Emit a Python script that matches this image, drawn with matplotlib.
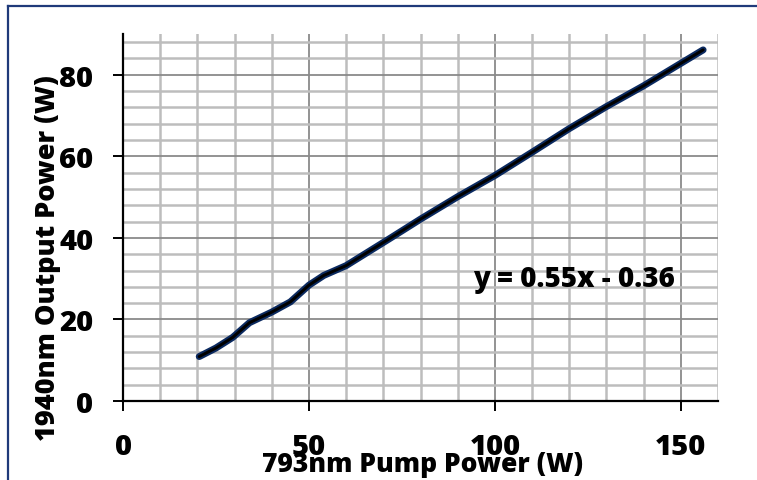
import numpy as np
import matplotlib
matplotlib.use('Agg')
import matplotlib.pyplot as plt
from matplotlib.lines import Line2D

plt.rcParams['font.family'] = ['Open Sans', 'DejaVu Sans']
plt.rcParams['font.weight'] = 'bold'

# pump power (W) vs output power (W)
pump_w = [20.5, 25, 29.5, 34, 40, 45, 50, 54, 60, 66, 72, 80,
          90, 100, 110, 120, 130, 140, 150, 156]
out_w = [10.9, 13.0, 15.6, 19.2, 21.8, 24.3, 28.4, 30.8, 33.2, 36.6, 40.0, 44.6,
         50.1, 55.3, 61.0, 66.8, 72.2, 77.3, 82.8, 86.1]

x_ticks = [0, 50, 100, 150]
y_ticks = [0, 20, 40, 60, 80]
fit_label = 'y = 0.55x - 0.36'

W, H = 757, 481
fig = plt.figure(figsize=(W / 100, H / 100), dpi=100)
fig.patch.set_facecolor('white')

# axes box in pixels: left 123, right 718, top 35, bottom 402
ax = fig.add_axes([123 / W, 1 - 402 / H, (718 - 123) / W, (402 - 35) / H])
ax.set_xlim(0, 160)
ax.set_ylim(0, 90)

# grid: minor light, major darker
for xv in np.arange(10, 161, 10):
    major = xv % 50 == 0
    ax.axvline(xv, color='#8a8a8a' if major else '#bdbdbd',
               lw=1.3 if major else 1.8, zorder=1)
for yv in np.arange(4, 89, 4):
    major = yv % 20 == 0
    ax.axhline(yv, color='#8a8a8a' if major else '#bdbdbd',
               lw=1.3 if major else 1.8, zorder=1)

ax.plot(pump_w, out_w, color='#0b2a60', lw=5.0, solid_capstyle='round',
        solid_joinstyle='round', zorder=3)
ax.plot(pump_w, out_w, color='black', lw=2.2, solid_capstyle='round',
        solid_joinstyle='round', zorder=4)

for s in ['top', 'right']:
    ax.spines[s].set_visible(False)
for s in ['left', 'bottom']:
    ax.spines[s].set_linewidth(1.6)
    ax.spines[s].set_color('black')
    ax.spines[s].set_zorder(5)

ax.set_xticks(x_ticks)
ax.set_yticks(y_ticks)
ax.tick_params(axis='both', direction='out', length=7.5, width=1.4,
               labelsize=21)
ax.tick_params(axis='y', pad=14)
ax.tick_params(axis='x', pad=15)
for lab in ax.get_xticklabels() + ax.get_yticklabels():
    lab.set_fontweight(800)

ax.text(148.4, 30, fit_label, ha='right', va='center', fontsize=20,
        fontweight=800, zorder=6)

fig.text(48 / W, 1 - 258 / H, '1940nm Output Power (W)', rotation=90,
         ha='center', va='center', fontsize=19.5, fontweight=800)
fig.text(423 / W, 1 - 472 / H, '793nm Pump Power (W)', ha='center',
         va='baseline', fontsize=19, fontweight=800)

# outer frame (only top and left visible in the crop)
frame_col = '#1f3a7a'
fig.add_artist(Line2D([8 / W, 1.0], [1 - 7 / H, 1 - 7 / H], color=frame_col,
                      lw=1.6, transform=fig.transFigure))
fig.add_artist(Line2D([8 / W, 8 / W], [0.0, 1 - 7 / H], color=frame_col,
                      lw=1.6, transform=fig.transFigure))

fig.savefig('out.png', dpi=100)
